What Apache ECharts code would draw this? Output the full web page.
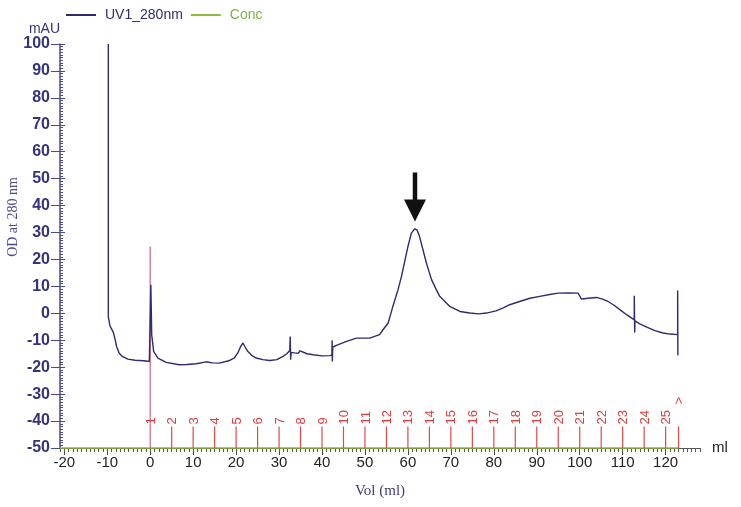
<!DOCTYPE html>
<html>
<head>
<meta charset="utf-8">
<script src="https://cdn.jsdelivr.net/npm/echarts@6/dist/echarts.min.js"></script>
<style>html,body{margin:0;padding:0;background:#fff;}#c{width:741px;height:507px;}</style>
</head>
<body>
<div id="c"></div>
<script>
// UV trace (volume in ml, absorbance in mAU)
var uvVol = [-9.75,-9.75,-9.4,-9.1,-8.6,-8.2,-7.8,-7.2,-6.5,-5.2,-3.5,-1.5,-0.2,
  0.1,0.15,0.35,0.8,1.8,3.7,6.8,8.5,10.7,13,14.5,16.1,18.5,19.6,20.4,21.0,21.6,22.1,22.7,23.6,24.7,26.2,27.8,29.5,30.9,31.8,32.5,
  32.6,32.7,32.8,33.6,34.5,34.9,35.3,36.5,37.9,40,41.8,42.3,42.35,42.4,42.5,43.5,45.7,48,51.1,53.4,54.2,55.4,56.5,57.7,58.5,60.0,
  60.8,61.6,62.1,62.7,63.5,64.3,65.5,66.6,67.4,69.7,72.1,74.4,76.5,78.3,80.5,82.2,83.7,86.0,88.4,90.7,93,95.0,95.1,95.2,97.5,99.6,
  100.0,100.4,102,103.9,105.3,106.6,108,109.4,111,112.7,112.7,112.8,112.85,114,115.6,117.5,119.4,121,122.8,122.8,122.85];
var uvVal = [100,-1.2,-4.5,-5.5,-7.0,-9.5,-12.5,-14.8,-16,-17,-17.4,-17.6,-17.9,
  -17.9,10.6,-8,-14.1,-16.6,-18.2,-19.1,-19,-18.7,-18,-18.4,-18.5,-17.5,-16.5,-14.7,-12.5,-11,-12.5,-14.1,-15.6,-16.6,-17.2,-17.5,-17.2,-16,-15,-13.8,
  -8.6,-17.2,-14.5,-14.7,-14.8,-13.9,-14.6,-15,-15.4,-15.8,-15.7,-15.5,-10,-17.9,-12.5,-11.8,-10.4,-9.2,-9.2,-7.9,-6.1,-3.6,2.6,8.8,13.7,24.8,
  29.8,31.4,31,28.6,23.6,18.7,12.5,8.8,6.3,2.6,0.7,0.1,-0.2,0.1,0.9,2.0,3.2,4.4,5.6,6.3,7,7.5,8.2,7.4,7.6,7.5,
  6.5,5.3,5.6,5.9,5.3,4.4,3.0,1.3,-0.6,-2.4,6.5,-7.1,-2.8,-3.9,-5.1,-6.4,-7.3,-7.7,-7.9,8.5,-15.7];
// Concentration trace (drawn on the baseline)
var concVol = [-21, 123];
var concVal = [-50, -50];
// Fraction marks
var fracVol = [0,5,10,15,20,25,30,35,40,45,50,55,60,65,70,75,80,85,90,95,100,105,110,115,120,123];
var fracLabels = ['1','2','3','4','5','6','7','8','9','10','11','12','13','14','15','16','17','18','19','20','21','22','23','24','25','>'];
var injectionTop = 24.8;   // height of the injection mark (mAU)
var fractionTop = -42;     // height of fraction marks (mAU)
// Arrow marking the peak: [vol, top, tip]
var arrowData = [[61.65, 52.3, 34.1]];
// Axis ticks
var xMajor = [-20,-10,0,10,20,30,40,50,60,70,80,90,100,110,120];
var xMinor = [];
for (var i = -21; i <= 128; i++) xMinor.push(i);

var navy = '#2e2b6f';
var axisNavy = '#4a4a8e';
var chart = echarts.init(document.getElementById('c'));
chart.setOption({
  animation: false,
  backgroundColor: '#fff',
  grid: {left: 60, right: 41, top: 44, bottom: 59, containLabel: false},
  legend: {
    left: 61, top: 3, itemWidth: 30, itemHeight: 2, icon: 'rect', itemGap: 8,
    textStyle: {fontFamily: 'Liberation Sans', fontSize: 14, padding: [0, 0, 0, 4]},
    data: [{name: 'UV1_280nm', textStyle: {color: '#2d2d6e'}}, {name: 'Conc', textStyle: {color: '#7cb342'}}]
  },
  xAxis: [{
    type: 'value', min: -21, max: 128, position: 'bottom',
    splitLine: {show: false},
    axisLine: {show: true, onZero: false, lineStyle: {color: '#555', width: 1}},
    axisTick: {show: true, length: 7, customValues: xMajor, lineStyle: {color: '#444'}},
    axisLabel: {customValues: xMajor, margin: 7, fontFamily: 'Liberation Sans', fontSize: 15, color: '#222'},
    name: 'Vol (ml)', nameLocation: 'middle', nameGap: 36,
    nameTextStyle: {fontFamily: 'Liberation Serif', fontSize: 15, color: '#3d3a80'}
  }, {
    type: 'value', min: -21, max: 128, position: 'bottom', offset: 0,
    splitLine: {show: false},
    axisLine: {show: false, onZero: false},
    axisTick: {show: true, length: 4, customValues: xMinor, lineStyle: {color: '#555'}},
    axisLabel: {show: false},
    name: 'ml', nameLocation: 'end', nameGap: 12,
    nameTextStyle: {fontFamily: 'Liberation Sans', fontSize: 15, color: '#222', verticalAlign: 'middle', align: 'left', padding: [6, 0, 0, 0]}
  }],
  yAxis: [{
    type: 'value', min: -50, max: 100, interval: 10, position: 'left',
    splitLine: {show: false},
    axisLine: {show: true, onZero: false, lineStyle: {color: axisNavy, width: 1.5}},
    axisTick: {show: true, length: 9, lineStyle: {color: axisNavy}},
    axisLabel: {margin: 10, fontFamily: 'Liberation Sans', fontSize: 16, fontWeight: 'bold', color: '#35337a'},
    name: 'mAU', nameLocation: 'end', nameGap: 15,
    nameTextStyle: {fontFamily: 'Liberation Sans', fontSize: 14, color: '#35337a', align: 'right', verticalAlign: 'middle'}
  }, {
    type: 'value', min: -50, max: 100, interval: 10, position: 'left', offset: 0,
    splitLine: {show: false},
    axisLine: {show: false, onZero: false},
    axisTick: {show: true, inside: true, length: 5, lineStyle: {color: axisNavy}},
    minorTick: {show: true, splitNumber: 10, length: 3, lineStyle: {color: axisNavy}},
    axisLabel: {show: false}
  }],
  graphic: [{
    type: 'text', x: 13, y: 217, rotation: Math.PI / 2,
    style: {text: 'OD at 280 nm', font: '14px "Liberation Serif"', fill: '#4b4890', align: 'center', verticalAlign: 'middle'}
  }],
  series: [{
    name: 'Conc', type: 'line', showSymbol: false, symbol: 'none',
    data: concVol.map(function (v, i) { return [v, concVal[i]]; }),
    lineStyle: {color: '#8dbb3a', width: 1.5}, itemStyle: {color: '#8dbb3a'}, clip: false, z: 3
  }, {
    type: 'custom', xAxisIndex: 0, yAxisIndex: 0, clip: false, silent: true, z: 4,
    data: fracVol.map(function (v) { return [v, 0]; }),
    renderItem: function (params, api) {
      var v = api.value(0);
      var idx = params.dataIndex;
      var base = api.coord([v, -50]);
      var top = api.coord([v, idx === 0 ? injectionTop : fractionTop]);
      var lab = api.coord([v, fractionTop]);
      var txt = fracLabels[idx];
      var extra = txt === '>' ? 20 : 0;
      return {type: 'group', children: [
        {type: 'line', shape: {x1: base[0], y1: base[1], x2: top[0], y2: top[1]},
         style: {stroke: idx === 0 ? '#d0607e' : '#e04848', lineWidth: 1.2}},
        {type: 'text', x: lab[0] + 1, y: lab[1] - 2 - extra, rotation: Math.PI / 2,
         style: {text: txt, font: '13px "Liberation Sans"', fill: '#e03c3c', align: 'left', verticalAlign: 'middle'}}
      ]};
    }
  }, {
    name: 'UV1_280nm', type: 'line', showSymbol: false, symbol: 'none',
    data: uvVol.map(function (v, i) { return [v, uvVal[i]]; }),
    lineStyle: {color: navy, width: 1.4}, itemStyle: {color: navy}, z: 5
  }, {
    type: 'custom', clip: false, silent: true, z: 6,
    data: arrowData,
    renderItem: function (params, api) {
      var topP = api.coord([api.value(0), api.value(1)]);
      var tipP = api.coord([api.value(0), api.value(2)]);
      var headLen = 22, headHalf = 11, shaft = 4.5;
      return {type: 'group', children: [
        {type: 'rect', shape: {x: topP[0] - shaft / 2, y: topP[1], width: shaft, height: tipP[1] - headLen - topP[1] + 1},
         style: {fill: '#111'}},
        {type: 'polygon', shape: {points: [[tipP[0] - headHalf, tipP[1] - headLen], [tipP[0] + headHalf, tipP[1] - headLen], [tipP[0], tipP[1]]]},
         style: {fill: '#111'}}
      ]};
    }
  }]
});
</script>
</body>
</html>
